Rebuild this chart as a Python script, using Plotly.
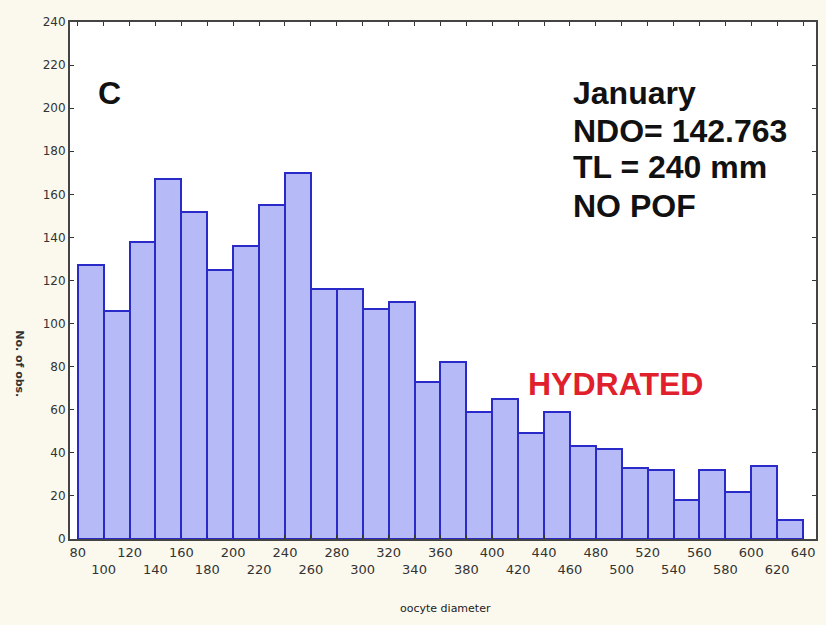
import plotly.graph_objects as go

# Histogram data (oocyte diameter bins, 20 units wide, from 80 to 640)
bin_starts = list(range(80, 640, 20))
counts = [127, 106, 138, 167, 152, 125, 136, 155, 170, 116,
          116, 107, 110, 73, 82, 59, 65, 49, 59, 43,
          42, 33, 32, 18, 32, 22, 34, 9]
bin_width = 20
bin_centers = [b + bin_width / 2 for b in bin_starts]

x_tick_vals = list(range(80, 641, 20))
x_tick_text = [str(v) if (v // 20) % 2 == 0 else "<br>" + str(v) for v in x_tick_vals]
y_tick_vals = list(range(0, 241, 20))

info_lines = ["January", "NDO= 142.763", "TL = 240 mm", "NO POF"]
panel_label = "C"
stage_label = "HYDRATED"
x_title = "oocyte diameter"
y_title = "No. of obs."

fig = go.Figure()
fig.add_trace(go.Bar(
    x=bin_centers, y=counts, width=[bin_width] * len(counts),
    marker=dict(color="#B6BAF6", line=dict(color="#2A2AC8", width=2)),
    showlegend=False, hoverinfo="skip",
))

big_font = "Liberation Sans, Arial"
annotations = []
annotations.append(dict(x=104.5, y=207, xref="x", yref="y", text="<b>%s</b>" % panel_label,
                        showarrow=False, font=dict(family=big_font, size=32, color="#111"),
                        xanchor="center", yanchor="middle"))
line_y = [207, 189.5, 172.5, 154.5]
for txt, yy in zip(info_lines, line_y):
    annotations.append(dict(x=461, y=yy, xref="x", yref="y", text="<b>%s</b>" % txt,
                            showarrow=False, font=dict(family=big_font, size=32, color="#111"),
                            xanchor="left", yanchor="middle"))
annotations.append(dict(x=426, y=72, xref="x", yref="y", text="<b>%s</b>" % stage_label,
                        showarrow=False, font=dict(family=big_font, size=32, color="#E0202C"),
                        xanchor="left", yanchor="middle"))
annotations.append(dict(x=0.504, y=-0.135, xref="paper", yref="paper", text=x_title,
                        showarrow=False, font=dict(family="DejaVu Sans", size=11, color="#222"),
                        xanchor="center", yanchor="middle"))
annotations.append(dict(x=-0.067, y=0.34, xref="paper", yref="paper", text="<b>%s</b>" % y_title,
                        textangle=90, showarrow=False,
                        font=dict(family="DejaVu Sans", size=11, color="#333"),
                        xanchor="center", yanchor="middle"))

fig.update_layout(
    width=826, height=625,
    margin=dict(l=70, r=8, t=22, b=86),
    paper_bgcolor="#FBF9EE", plot_bgcolor="#FFFFFF",
    bargap=0,
    annotations=annotations,
    xaxis=dict(range=[74, 650], tickvals=x_tick_vals, ticktext=x_tick_text, tickangle=0,
               ticks="inside", ticklen=4, tickcolor="#333", mirror="ticks",
               showline=True, linecolor="#444", linewidth=2, showgrid=False, zeroline=False,
               tickfont=dict(family="DejaVu Sans", size=13, color="#333")),
    yaxis=dict(range=[0, 240], tickvals=y_tick_vals,
               ticks="inside", ticklen=4, tickcolor="#333", mirror="ticks",
               showline=True, linecolor="#444", linewidth=2, showgrid=False, zeroline=False,
               tickfont=dict(family="DejaVu Sans", size=12, color="#333")),
)

fig.write_html("out.html")
